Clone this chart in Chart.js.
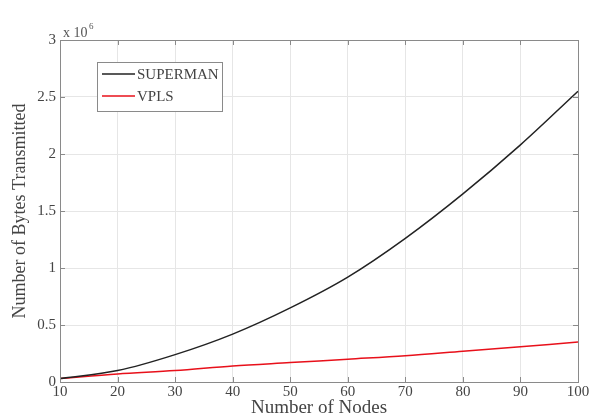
<!DOCTYPE html>
<html>
<head>
<meta charset="utf-8">
<script src="https://cdn.jsdelivr.net/npm/chart.js@4"></script>
<style>
  html, body { margin: 0; padding: 0; background: #fff; }
  #wrap { width: 592px; height: 417px; }
</style>
</head>
<body>
<div id="wrap"><canvas id="grafica"></canvas></div>
<script>
// Datos (valores en unidades de 10^6)
const nodos = [10, 20, 30, 40, 50, 60, 70, 80, 90, 100];
const superman = [0.03, 0.10, 0.24, 0.42, 0.65, 0.92, 1.26, 1.65, 2.08, 2.55];
const vpls = [0.03, 0.07, 0.10, 0.14, 0.17, 0.20, 0.23, 0.27, 0.31, 0.35];
const nombres = ["SUPERMAN", "VPLS"];
const colores = ["#222222", "#e8101a"];
const exponente = "6";

const fuente = "'Liberation Serif', 'DejaVu Serif', serif";

// Caja, leyenda y exponente al estilo MATLAB
const estiloMatlab = {
    id: "estiloMatlab",
    afterDraw(chart) {
        const { ctx, chartArea: a } = chart;
        ctx.save();
        ctx.strokeStyle = "#8a8a8a";
        ctx.lineWidth = 1;
        ctx.strokeRect(a.left + 0.5, a.top + 0.5, a.right - a.left, a.bottom - a.top);

        // ticks hacia dentro
        const xs = chart.scales.x, ys = chart.scales.y;
        ctx.beginPath();
        xs.ticks.forEach(t => {
            const px = Math.round(xs.getPixelForValue(t.value)) + 0.5;
            ctx.moveTo(px, a.bottom); ctx.lineTo(px, a.bottom - 5);
            ctx.moveTo(px, a.top); ctx.lineTo(px, a.top + 5);
        });
        ys.ticks.forEach(t => {
            const py = Math.round(ys.getPixelForValue(t.value)) + 0.5;
            ctx.moveTo(a.left, py); ctx.lineTo(a.left + 5, py);
            ctx.moveTo(a.right, py); ctx.lineTo(a.right - 5, py);
        });
        ctx.stroke();

        // exponente
        ctx.fillStyle = "#555";
        ctx.font = "14px " + fuente;
        ctx.textBaseline = "alphabetic";
        ctx.fillText("x 10", a.left + 3, a.top - 3);
        ctx.font = "9px " + fuente;
        ctx.fillText(exponente, a.left + 29, a.top - 11);

        // leyenda
        const lx = 97, ly = 62, lw = 125, lh = 49;
        ctx.fillStyle = "#fff";
        ctx.fillRect(lx, ly, lw, lh);
        ctx.strokeStyle = "#8a8a8a";
        ctx.strokeRect(lx + 0.5, ly + 0.5, lw, lh);
        ctx.font = "15px " + fuente;
        ctx.textBaseline = "middle";
        nombres.forEach((n, i) => {
            const y = ly + 12 + i * 22;
            ctx.strokeStyle = colores[i];
            ctx.lineWidth = 1.5;
            ctx.beginPath();
            ctx.moveTo(lx + 5, y); ctx.lineTo(lx + 38, y);
            ctx.stroke();
            ctx.fillStyle = "#444";
            ctx.fillText(n, lx + 40, y + 1);
        });
        ctx.restore();
    }
};

new Chart(document.getElementById("grafica"), {
    type: "line",
    data: {
        labels: nodos,
        datasets: [
            { label: nombres[0], data: nodos.map((x, i) => ({ x, y: superman[i] })), borderColor: colores[0], borderWidth: 1.5, pointRadius: 0, cubicInterpolationMode: "monotone" },
            { label: nombres[1], data: nodos.map((x, i) => ({ x, y: vpls[i] })), borderColor: colores[1], borderWidth: 1.5, pointRadius: 0, cubicInterpolationMode: "monotone" }
        ]
    },
    options: {
        responsive: true,
        maintainAspectRatio: false,
        animation: false,
        layout: { padding: { top: 40, right: 14, left: 9, bottom: 0 } },
        plugins: { legend: { display: false }, tooltip: { enabled: false } },
        scales: {
            x: {
                type: "linear", min: 10, max: 100,
                ticks: { stepSize: 10, color: "#444", font: { family: fuente, size: 15 }, padding: 1, maxRotation: 0 },
                grid: { color: "#e6e6e6", drawTicks: false },
                border: { display: false },
                title: { display: true, text: "Number of Nodes", color: "#444", font: { family: fuente, size: 19 }, padding: { top: 0, bottom: -2 } },
                afterFit(s) { s.height = 35; }
            },
            y: {
                min: 0, max: 3,
                ticks: { stepSize: 0.5, color: "#444", font: { family: fuente, size: 15 }, padding: 4, callback: v => String(v) },
                grid: { color: "#e6e6e6", drawTicks: false },
                border: { display: false },
                title: { display: true, text: "Number of Bytes Transmitted", color: "#444", font: { family: fuente, size: 18 }, padding: { top: 0, bottom: 2 } },
                afterFit(s) { s.width = 51; }
            }
        }
    },
    plugins: [estiloMatlab]
});
</script>
</body>
</html>
